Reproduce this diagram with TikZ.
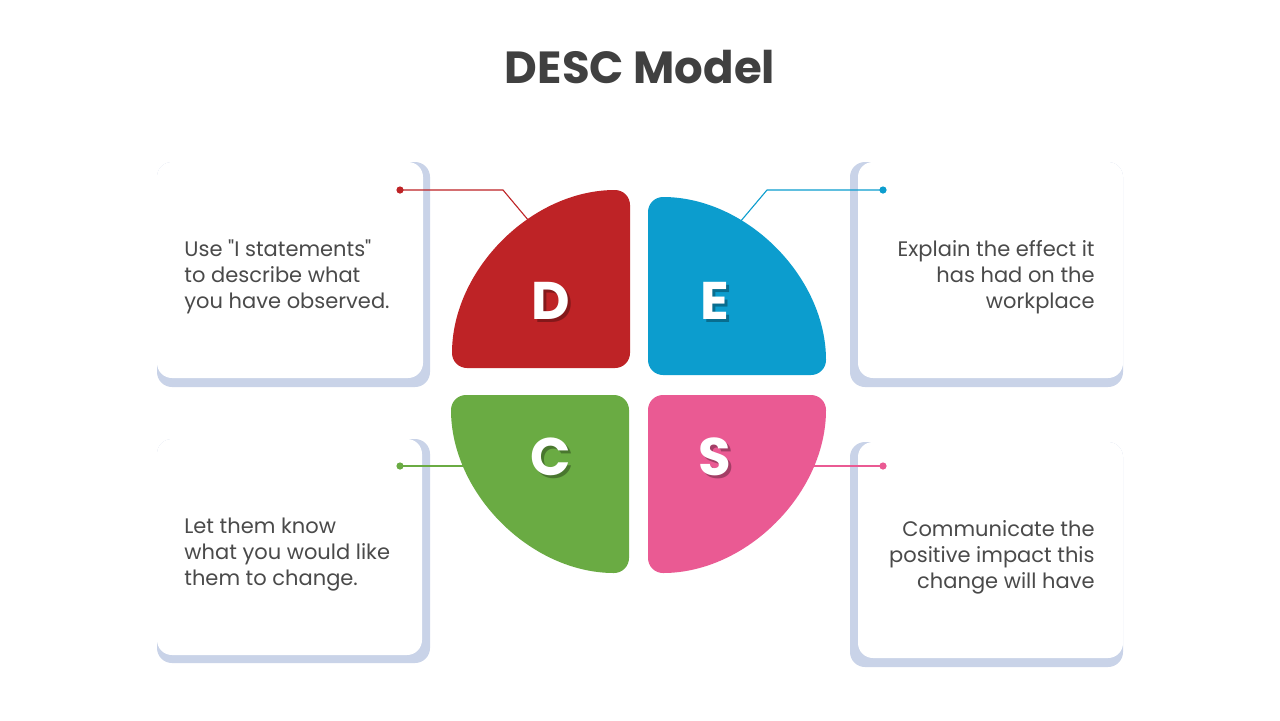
\documentclass[tikz,border=0pt]{standalone}
\usepackage{fontspec}
\setmainfont{Poppins}[Ligatures=TeXOff]
\usetikzlibrary{calc}
\definecolor{dred}{HTML}{BE2326}
\definecolor{eblue}{HTML}{0C9DCE}
\definecolor{cgreen}{HTML}{6AAB43}
\definecolor{spink}{HTML}{EA5A93}
\definecolor{cardshade}{HTML}{C9D3E8}
\definecolor{inkgrey}{HTML}{404040}
\definecolor{blurbgrey}{HTML}{4A4A4A}
\tikzset{
 quarter/.style={rounded corners=7.5pt},
 card/.style={fill=white,rounded corners=7.5pt},
 cardback/.style={fill=cardshade,rounded corners=7.5pt},
 letter/.style={text=white,font=\fontsize{26.5}{30}\selectfont\bfseries,inner sep=0},
 lettershade/.style={text=black,opacity=.3,font=\fontsize{26.5}{30}\selectfont\bfseries,inner sep=0},
 blurb/.style={text=blurbgrey,font=\fontsize{10.5}{13}\selectfont,inner sep=0},
 leader/.style={line width=.55pt},
 enddot/.style={circle,minimum size=3.6pt,inner sep=0}
}
\begin{document}
\begin{tikzpicture}[x=.5pt,y=-.5pt]
\path[use as bounding box,fill=white] (0,0) rectangle (1280,720);
\node[text=inkgrey,font=\fontsize{22.5}{26}\selectfont\bfseries] (title) at (640,67) {DESC Model};
% cards
\fill[cardback] (157,162) rectangle (430,387);
\fill[card] (157,162) rectangle (423,378);
\fill[cardback] (850,162) rectangle (1123,387);
\fill[card] (858,162) rectangle (1123,378);
\fill[cardback] (157,439) rectangle (430,663);
\fill[card] (157,439) rectangle (422,655);
\fill[cardback] (850,442) rectangle (1123,667);
\fill[card] (858,442) rectangle (1123,658);
% quarters
\fill[dred,quarter] (630,368) -- (452,368) arc[start angle=180,end angle=270,radius=178] -- cycle;
\fill[eblue,quarter] (648,375) -- (648,197) arc[start angle=270,end angle=360,radius=178] -- cycle;
\fill[cgreen,quarter] (629,395) -- (451,395) arc[start angle=180,end angle=90,radius=178] -- cycle;
\fill[spink,quarter] (648,395) -- (826,395) arc[start angle=0,end angle=90,radius=178] -- cycle;
% letters
\foreach \name/\x/\y in {D/551/301,E/715/301,C/551/457,S/715/457}{
 \node[lettershade] at (\x+2.5,\y+2.5) {\name};
 \node[letter] (letter\name) at (\x,\y) {\name};
}
% leaders
\coordinate (tipD) at (529,221);
\coordinate (bendD) at (503,190);
\node[enddot,fill=dred] (dotD) at (400,190) {};
\draw[leader,dred] (dotD.center) -- (bendD) -- (tipD);
\coordinate (tipE) at (740,222);
\coordinate (bendE) at (767,190);
\node[enddot,fill=eblue] (dotE) at (883,190) {};
\draw[leader,eblue] (dotE.center) -- (bendE) -- (tipE);
\coordinate (tipC) at (466,466);
\node[enddot,fill=cgreen] (dotC) at (400,466) {};
\draw[leader,cgreen] (dotC.center) -- (tipC);
\coordinate (tipS) at (811,466);
\node[enddot,fill=spink] (dotS) at (883,466) {};
\draw[leader,spink] (dotS.center) -- (tipS);
% texts
\node[blurb,anchor=west,align=left] (textD) at (184,277) {Use "I statements"\\to describe what\\you have observed.};
\node[blurb,anchor=east,align=right] (textE) at (1095,277) {Explain the effect it\\has had on the\\workplace};
\node[blurb,anchor=west,align=left] (textC) at (184,555) {Let them know\\what you would like\\them to change.};
\node[blurb,anchor=east,align=right] (textS) at (1095,557) {Communicate the\\positive impact this\\change will have};
\end{tikzpicture}
\end{document}
